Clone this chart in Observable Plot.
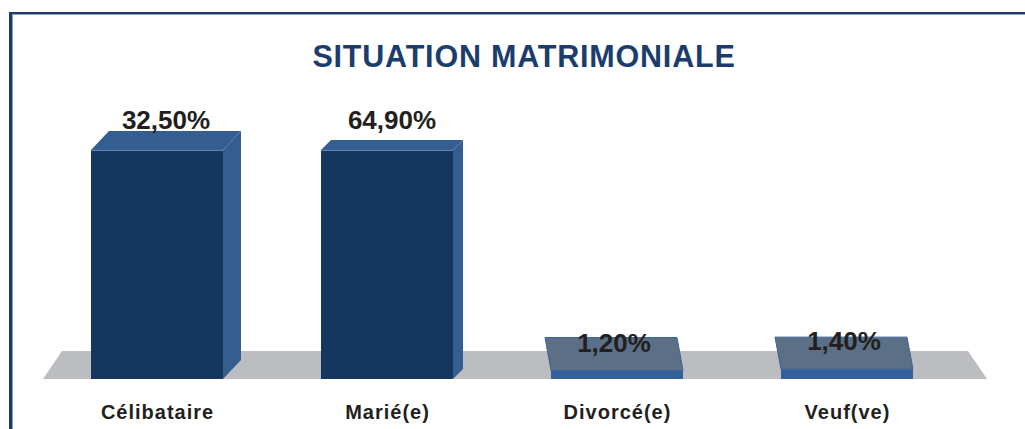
<!DOCTYPE html>
<html>
<head>
<meta charset="utf-8">
<script src="https://cdn.jsdelivr.net/npm/d3@7"></script>
<script src="https://cdn.jsdelivr.net/npm/@observablehq/plot@0.6"></script>
<style>
  html, body { margin: 0; padding: 0; background: #fff; }
  #wrap { position: relative; width: 1025px; height: 429px; overflow: hidden; font-family: "Liberation Sans", Arial, sans-serif; }
  #frame { position: absolute; left: 9px; top: 12px; width: 1100px; height: 500px;
           border-left: 3px solid #1d3c6c; border-top: 2.5px solid #1d3c6c;
           box-shadow: inset 1px 1px 0 #8ea4c4; box-sizing: border-box; }
  #title { position: absolute; left: 0; width: 1048px; top: 41px; text-align: center;
           font-size: 30.5px; line-height: 30px; font-weight: bold; color: #1b3d6e; letter-spacing: 0.8px; }
  #chart { position: absolute; left: 0; top: 0; }
  #chart g[aria-label="x-axis tick label"] text { letter-spacing: 1px; }
</style>
</head>
<body>
<div id="wrap">
  <div id="frame"></div>
  <div id="chart"></div>
  <div id="title">SITUATION MATRIMONIALE</div>
</div>
<script>
// ---- data ----
const categories = ["Célibataire", "Marié(e)", "Divorcé(e)", "Veuf(ve)"];
const values = [32.5, 64.9, 1.2, 1.4];
const valueLabels = ["32,50%", "64,90%", "1,20%", "1,40%"];
const yCap = 32.5; // the chart's visible value cap (taller bars are clipped to it)

// ---- 3D styling (pixel depth offsets per bar, colours) ----
const depthOffsets = [[18, -19], [10, -10], [-6, -33], [-6, -32]];
const tallStyle = { front: "#15365f", top: "#345e90", side: "#345e90", edge: "#5f84b6" };
const flatStyle = { front: "#34609a", top: "#5b6f86", stroke: "#3a639a" };

const data = categories.map((c, i) => ({ category: c, value: values[i], label: valueLabels[i], i }));

function floorRender(index, scales, vals, dims) {
  const { x, y } = scales;
  const [r0, r1] = x.range();
  const yb = y(0);
  const g = d3.create("svg:g");
  const pts = [[r0 + 1, yb], [r1 + 25, yb], [r1 + 6, yb - 28], [r0 + 20, yb - 28]];
  g.append("polygon").attr("points", pts.map(p => p.join(",")).join(" ")).attr("fill", "#bcbdc1");
  return g.node();
}

function barsRender(index, scales, vals, dims) {
  const { x, y } = scales;
  const bw = x.bandwidth();
  const g = d3.create("svg:g");
  const poly = pts => pts.map(p => p.join(",")).join(" ");
  for (const i of index) {
    const d = data[i];
    const [dx, dy] = depthOffsets[d.i];
    const x0 = x(d.category), x1 = x0 + bw;
    const yt = y(d.value), yb = y(0);
    const flat = (yb - yt) < Math.abs(dy);
    const st = flat ? flatStyle : tallStyle;
    if (!flat && dx > 0) {
      g.append("polygon").attr("points", poly([[x1, yt], [x1 + dx, yt + dy], [x1 + dx, yb + dy], [x1, yb]])).attr("fill", st.side);
    }
    g.append("rect").attr("x", x0).attr("y", yt).attr("width", bw).attr("height", yb - yt).attr("fill", st.front);
    g.append("polygon").attr("points", poly([[x0, yt], [x1, yt], [x1 + dx, yt + dy], [x0 + dx, yt + dy]]))
      .attr("fill", st.top).attr("stroke", flat ? st.stroke : "none").attr("stroke-width", 1);
    if (!flat) {
      g.append("line").attr("x1", x0).attr("x2", x1).attr("y1", yt + 0.5).attr("y2", yt + 0.5).attr("stroke", st.edge).attr("stroke-width", 1);
    }
    g.append("text").attr("x", x0 + bw / 2 + dx / 2).attr("y", yt - 21 + (flat ? 2 : 0))
      .attr("text-anchor", "middle").attr("font-size", 26).attr("font-weight", "bold")
      .attr("fill", "#231f20").text(d.label);
  }
  return g.node();
}

const chart = Plot.plot({
  width: 1025,
  height: 429,
  marginLeft: 42,
  marginRight: 63,
  marginTop: 150,
  marginBottom: 50,
  style: { fontFamily: "'Liberation Sans', Arial, sans-serif", background: "transparent", overflow: "visible" },
  x: { domain: categories, paddingInner: 0.426, paddingOuter: 0.213, label: null },
  y: { domain: [0, yCap], clamp: true, axis: null },
  marks: [
    Plot.frame({ stroke: "none", render: floorRender }),
    Plot.barY(data, { x: "category", y: "value", render: barsRender }),
    Plot.axisX({ tickSize: 0, tickPadding: 25, fontSize: 20, fontWeight: "bold", fill: "#231f20", label: null })
  ]
});
document.getElementById("chart").appendChild(chart);
</script>
</body>
</html>
